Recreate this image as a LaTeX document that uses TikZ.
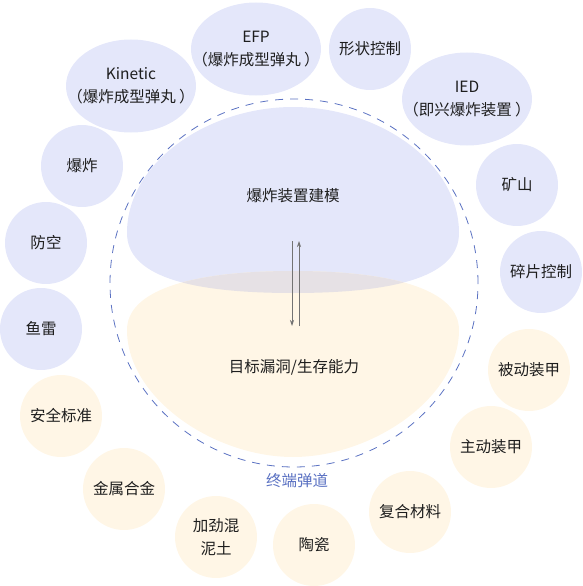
\documentclass[tikz,border=0pt]{standalone}
\usepackage{fontspec}
\setmainfont{Noto Sans CJK SC}
\usetikzlibrary{shapes.geometric,arrows.meta}
\definecolor{bluefill}{HTML}{E4E7FA}
\definecolor{beigefill}{HTML}{FFF6E6}
\definecolor{mixfill}{HTML}{E6E1E5}
\definecolor{dashblue}{HTML}{5A71C2}
\definecolor{textgray}{HTML}{1E1E1E}
\begin{document}
\begin{tikzpicture}
  [x=1pt,y=-1pt,
   every node/.style={text=textgray,font=\fontsize{15.5}{23}\selectfont,align=center,inner sep=0pt},
   bluenode/.style={circle,fill=bluefill,minimum size=82pt},
   beigenode/.style={circle,fill=beigefill,minimum size=82pt},
   blueoval/.style={ellipse,fill=bluefill,minimum width=130pt,minimum height=93pt},
   flow/.style={draw=gray!90!black,line width=0.7pt,-{Stealth[length=6pt,width=4pt]}}]
  \useasboundingbox (0,0) rectangle (583,586);

  % the two halves
  \fill[bluefill] (293,293) .. controls (400,293) and (459,275) .. (459,233)
    .. controls (459,162) and (378,107) .. (293,107)
    .. controls (208,107) and (127,162) .. (127,233)
    .. controls (127,275) and (186,293) .. (293,293) -- cycle;
  \fill[beigefill] (293,271) .. controls (400,271) and (459,292) .. (459,330)
    .. controls (459,398) and (372,457) .. (293,457)
    .. controls (214,457) and (127,398) .. (127,330)
    .. controls (127,292) and (186,271) .. (293,271) -- cycle;
  \begin{scope}
    \clip (293,293) .. controls (400,293) and (459,275) .. (459,233)
      .. controls (459,162) and (378,107) .. (293,107)
      .. controls (208,107) and (127,162) .. (127,233)
      .. controls (127,275) and (186,293) .. (293,293) -- cycle;
    \fill[mixfill] (293,271) .. controls (400,271) and (459,292) .. (459,330)
      .. controls (459,398) and (372,457) .. (293,457)
      .. controls (214,457) and (127,398) .. (127,330)
      .. controls (127,292) and (186,271) .. (293,271) -- cycle;
  \end{scope}

  \node (ring) at (294,283) [circle,draw=dashblue,line width=0.8pt,dash pattern=on 8pt off 7pt,minimum size=368pt] {};
  \node (ballistics) at (297,481) [text=dashblue] {终端弹道};

  \node (model) at (293,196) {爆炸装置建模};
  \node (target) at (294,367) {目标漏洞/生存能力};
  \coordinate (d1) at (292,241);
  \coordinate (d2) at (292,326);
  \coordinate (u1) at (299,326);
  \coordinate (u2) at (299,241);
  \draw[flow] (d1) -- (d2);
  \draw[flow] (u1) -- (u2);

  % threats
  \node[blueoval,label={[align=center]center:Kinetic\\（爆炸成型弹丸 ）}] (kinetic) at (131,86) {};
  \node[blueoval,label={[align=center]center:EFP\\（爆炸成型弹丸 ）}] (efp) at (256,49) {};
  \node[bluenode] (shape) at (370,49) {形状控制};
  \node[blueoval,label={[align=center]center:IED\\（即兴爆炸装置 ）}] (ied) at (467,99) {};
  \node[bluenode] (mine) at (517,185) {矿山};
  \node[bluenode] (frag) at (541,272) {碎片控制};
  \node[bluenode] (blast) at (82,166) {爆炸};
  \node[bluenode] (air) at (46,243) {防空};
  \node[bluenode] (torpedo) at (41,329) {鱼雷};

  % targets
  \node[beigenode] (safety) at (61,416) {安全标准};
  \node[beigenode] (alloy) at (124,489) {金属合金};
  \node[beigenode] (concrete) at (216,537) {加劲混\\泥土};
  \node[beigenode] (ceramic) at (314,545) {陶瓷};
  \node[beigenode] (composite) at (410,512) {复合材料};
  \node[beigenode] (active) at (491,447) {主动装甲};
  \node[beigenode] (passive) at (529,370) {被动装甲};

\end{tikzpicture}
\end{document}
